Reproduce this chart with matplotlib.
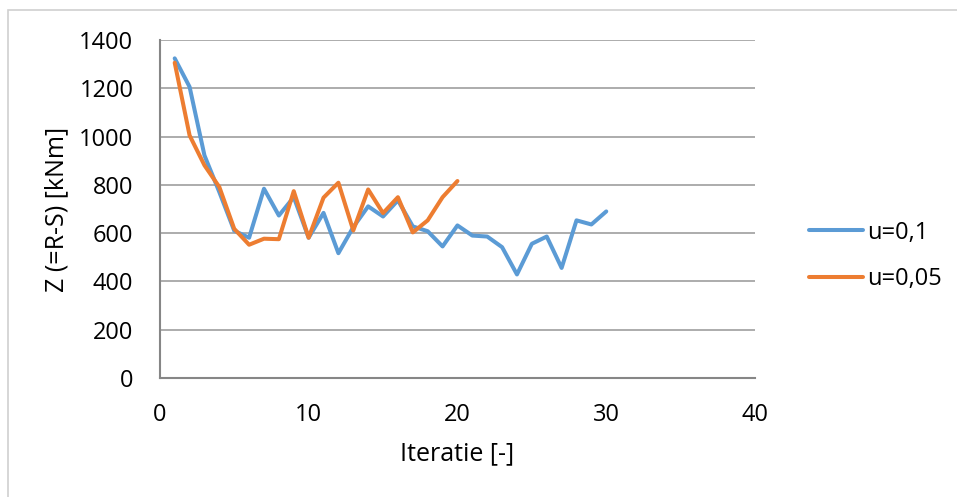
import matplotlib
matplotlib.use("Agg")
import matplotlib.pyplot as plt
from matplotlib.patches import Rectangle

# Data
iter_a = list(range(1, 31))
z_a = [1324, 1206, 922, 770, 610, 581, 784, 673, 749, 581,
       684, 517, 625, 711, 669, 736, 628, 608, 545, 632,
       590, 586, 542, 429, 556, 586, 456, 653, 636, 690]

iter_b = list(range(1, 21))
z_b = [1306, 1005, 881, 791, 618, 552, 577, 575, 774, 581,
       747, 809, 611, 781, 683, 749, 603, 653, 749, 816]

labels = ["u=0,1", "u=0,05"]
x_ticks = [0, 10, 20, 30, 40]
y_ticks = [0, 200, 400, 600, 800, 1000, 1200, 1400]

plt.rcParams["font.family"] = ["Open Sans", "DejaVu Sans"]

fig = plt.figure(figsize=(9.57, 4.97), dpi=100)
ax = fig.add_axes([0.167, 0.2394, 0.622, 0.6801])

# outer chart border
fig.patches.append(Rectangle((8 / 957, -0.1), 1.1, 1 - 10 / 497 + 0.1,
                             transform=fig.transFigure, fill=False,
                             edgecolor="#d0d0d0", linewidth=1.2))

ax.plot(iter_a, z_a, color="#5B9BD5", lw=2.9, label=labels[0],
        solid_joinstyle="round", solid_capstyle="round")
ax.plot(iter_b, z_b, color="#ED7D31", lw=2.9, label=labels[1],
        solid_joinstyle="round", solid_capstyle="round")

ax.set_xlim(0, 40)
ax.set_ylim(0, 1400)
ax.set_xticks(x_ticks)
ax.set_yticks(y_ticks)
ax.tick_params(length=0, labelsize=17, colors="#000000")
ax.tick_params(axis="y", pad=19)
ax.tick_params(axis="x", pad=18)
ax.grid(axis="y", color="#a6a6a6", lw=1.3)
ax.set_axisbelow(True)
for s in ["top", "right"]:
    ax.spines[s].set_visible(False)
for s in ["left", "bottom"]:
    ax.spines[s].set_color("#868686")
    ax.spines[s].set_linewidth(1.5)

ax.set_xlabel("Iteratie [-]", fontsize=18, labelpad=10)
ax.set_ylabel("Z (=R-S) [kNm]", fontsize=18, labelpad=7)

ax.legend(loc="center left", bbox_to_anchor=(0.823, 0.485),
          bbox_transform=fig.transFigure, frameon=False, fontsize=17,
          handlelength=2.3, handletextpad=0.15, labelspacing=0.95)

fig.savefig("out.png", dpi=100)
